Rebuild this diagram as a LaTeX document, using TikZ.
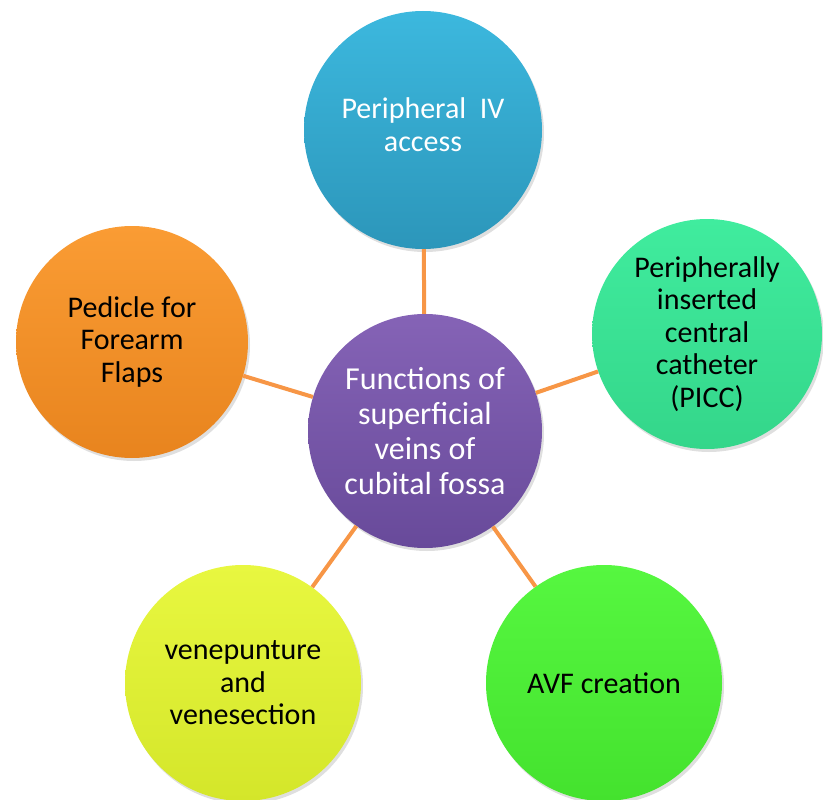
\documentclass[tikz,border=0pt]{standalone}
\usepackage{fontspec}
\setmainfont{Carlito}
\usepackage{tikz}
\usetikzlibrary{shadows}
\usepackage{xcolor}

\definecolor{ivtop}{HTML}{3CB8DE}
\definecolor{ivbot}{HTML}{2C96BA}
\definecolor{centop}{HTML}{8563B6}
\definecolor{cenbot}{HTML}{684A9A}
\definecolor{picctop}{HTML}{40EC9E}
\definecolor{piccbot}{HTML}{34D68A}
\definecolor{flaptop}{HTML}{FA9C34}
\definecolor{flapbot}{HTML}{E8841E}
\definecolor{venetop}{HTML}{E8F740}
\definecolor{venebot}{HTML}{D4E62A}
\definecolor{avftop}{HTML}{56F740}
\definecolor{avfbot}{HTML}{44E22E}
\definecolor{linkcol}{HTML}{F79646}

\begin{document}
\begin{tikzpicture}[x=1pt, y=-1pt,
    bubble/.style={circle, inner sep=0pt, minimum size=#1, align=center,
      font=\fontsize{30}{32.5}\selectfont,
      drop shadow={opacity=0.25, shadow xshift=2pt, shadow yshift=-3pt}},
    bubble/.default=234pt,
    link/.style={draw=linkcol, line width=4pt}] % {{{
    \useasboundingbox (0,0) rectangle (823,800);
    % Centre and the five uses {{{
    \node[bubble, top color=centop, bottom color=cenbot, text=white,
      font=\fontsize{32}{35}\selectfont] (centre) at (425,431)
      {Functions of\\superficial\\veins of\\cubital fossa};
    \node[bubble=238pt, top color=ivtop, bottom color=ivbot, text=white] (iv) at (423,130)
      {Peripheral~ IV\\access\\[-22pt]};
    \node[bubble=230pt, top color=picctop, bottom color=piccbot] (picc) at (707,334)
      {Peripherally\\inserted\\central\\catheter\\(PICC)};
    \node[bubble=232pt, top color=flaptop, bottom color=flapbot] (flap) at (132,342)
      {Pedicle for\\Forearm\\Flaps};
    \node[bubble=236pt, top color=venetop, bottom color=venebot] (vene) at (243,683)
      {venepunture\\and\\venesection};
    \node[bubble=236pt, top color=avftop, bottom color=avfbot] (avf) at (604,683)
      {AVF creation};
    % }}}
    % Links {{{
    \foreach \n in {iv,picc,avf,vene,flap} {
      \draw[link] (centre) -- (\n);
    }
    % }}}
\end{tikzpicture} % }}}
\end{document}
